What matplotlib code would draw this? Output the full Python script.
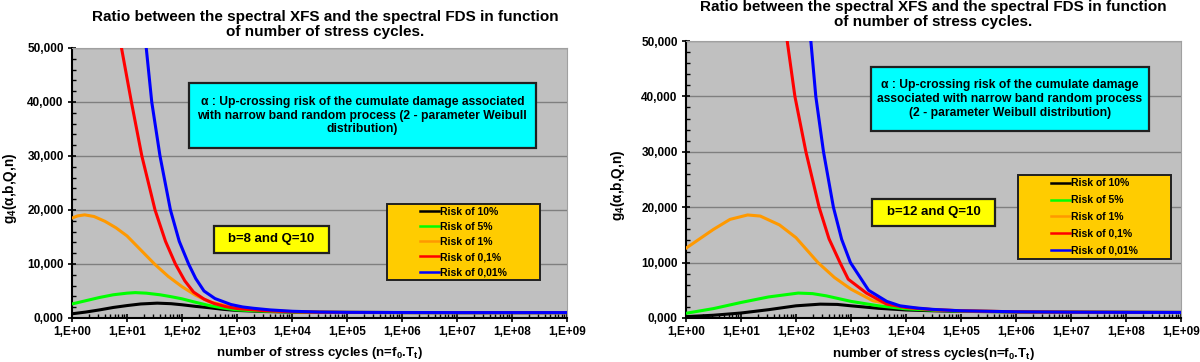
import numpy as np
import matplotlib
matplotlib.use("Agg")
import matplotlib.pyplot as plt
from matplotlib.patches import Rectangle
from matplotlib.ticker import FixedLocator, MultipleLocator, LogLocator, FuncFormatter, NullFormatter

plt.rcParams['font.family'] = ['Liberation Sans', 'DejaVu Sans']
plt.rcParams['font.weight'] = 'bold'
plt.rcParams['mathtext.fontset'] = 'custom'
plt.rcParams['mathtext.rm'] = 'Liberation Sans:bold'
plt.rcParams['mathtext.it'] = 'Liberation Sans:bold'
plt.rcParams['mathtext.bf'] = 'Liberation Sans:bold'

# ---- data : exponents of n (n = 10**e) and g4 values ----
risques = ["Risk of 10%", "Risk of 5%", "Risk of 1%", "Risk of 0,1%", "Risk of 0,01%"]
couleurs = ["#000000", "#00FF00", "#FF9900", "#FF0000", "#0000FF"]

# left panel : b=8 and Q=10
g_noir_e = [0, 0.25, 0.5, 0.75, 1.0, 1.25, 1.55, 1.8, 2.0, 2.25, 2.5, 2.75, 3.0, 3.5, 4.0, 4.5, 5, 6, 7, 8, 9]
g_noir_v = [0.78, 1.1, 1.5, 1.95, 2.3, 2.6, 2.75, 2.65, 2.45, 2.15, 1.9, 1.6, 1.4, 1.2, 1.1, 1.05, 1.03, 1.01, 1.0, 1.0, 1.0]
g_vert_e = [0, 0.25, 0.5, 0.75, 1.0, 1.15, 1.35, 1.6, 1.8, 2.0, 2.25, 2.5, 2.75, 3.0, 3.5, 4.0, 4.5, 5, 6, 7, 8, 9]
g_vert_v = [2.6, 3.2, 3.8, 4.3, 4.6, 4.7, 4.6, 4.3, 3.95, 3.55, 2.9, 2.3, 1.85, 1.5, 1.25, 1.12, 1.06, 1.03, 1.01, 1.0, 1.0, 1.0]
g_orange_e = [0, 0.1, 0.23, 0.4, 0.6, 0.8, 1.0, 1.25, 1.5, 1.75, 2.0, 2.25, 2.5, 2.75, 3.0, 3.5, 4.0, 4.5, 5, 6, 7, 8, 9]
g_orange_v = [18.5, 18.9, 19.1, 18.8, 17.9, 16.7, 15.2, 12.6, 10.0, 7.7, 5.8, 4.2, 3.0, 2.4, 2.0, 1.45, 1.2, 1.08, 1.04, 1.01, 1.0, 1.0, 1.0]
g_rouge_e = [0.6, 0.75, 0.9, 1.08, 1.27, 1.51, 1.7, 1.88, 2.05, 2.21, 2.4, 2.58, 2.8, 3.0, 3.5, 4.0, 4.5, 5, 6, 7, 8, 9]
g_rouge_v = [80, 63, 50, 40, 30, 20, 14.2, 10, 6.9, 4.8, 3.5, 2.7, 2.1, 1.75, 1.35, 1.15, 1.07, 1.03, 1.01, 1.0, 1.0, 1.0]
g_bleu_e = [1.15, 1.25, 1.35, 1.45, 1.6, 1.79, 1.95, 2.12, 2.25, 2.4, 2.6, 2.89, 3.1, 3.3, 3.6, 4.0, 4.5, 5, 6, 7, 8, 9]
g_bleu_v = [70, 59, 50, 40, 30, 20, 14.2, 10, 7.3, 5.0, 3.6, 2.5, 2.05, 1.8, 1.5, 1.25, 1.1, 1.05, 1.02, 1.0, 1.0, 1.0]

# right panel : b=12 and Q=10
d_noir_e = [0, 0.5, 1.0, 1.5, 2.0, 2.44, 2.75, 3.0, 3.5, 4.0, 4.5, 5, 6, 7, 8, 9]
d_noir_v = [0.25, 0.5, 0.9, 1.5, 2.2, 2.5, 2.45, 2.2, 1.75, 1.45, 1.3, 1.2, 1.1, 1.05, 1.02, 1.0]
d_vert_e = [0, 0.5, 1.0, 1.5, 2.04, 2.3, 2.55, 3.0, 3.5, 4.0, 4.5, 5, 6, 7, 8, 9]
d_vert_v = [0.85, 1.7, 2.8, 3.8, 4.5, 4.4, 4.0, 3.0, 2.2, 1.65, 1.4, 1.25, 1.12, 1.05, 1.02, 1.0]
d_orange_e = [0, 0.25, 0.5, 0.8, 1.12, 1.35, 1.7, 2.0, 2.4, 2.7, 3.0, 3.4, 4.0, 4.5, 5, 6, 7, 8, 9]
d_orange_v = [12.6, 14.3, 16.0, 17.8, 18.6, 18.4, 16.8, 14.5, 10.0, 7.3, 5.2, 3.1, 1.9, 1.5, 1.3, 1.12, 1.05, 1.02, 1.0]
d_rouge_e = [1.5, 1.7, 1.84, 1.98, 2.18, 2.42, 2.6, 2.8, 2.95, 3.28, 3.65, 4.0, 4.5, 5, 6, 7, 8, 9]
d_rouge_v = [75, 59, 50, 40, 30, 20, 14.3, 10, 7.0, 4.5, 2.5, 1.9, 1.5, 1.3, 1.12, 1.05, 1.02, 1.0]
d_bleu_e = [2.0, 2.15, 2.27, 2.36, 2.5, 2.68, 2.83, 2.99, 3.32, 3.65, 3.89, 4.2, 4.5, 5, 6, 7, 8, 9]
d_bleu_v = [75, 60, 50, 40, 30, 20, 14.2, 10, 5.0, 3.0, 2.2, 1.8, 1.55, 1.3, 1.12, 1.05, 1.02, 1.0]

gauche = [(g_noir_e, g_noir_v), (g_vert_e, g_vert_v), (g_orange_e, g_orange_v),
          (g_rouge_e, g_rouge_v), (g_bleu_e, g_bleu_v)]
droite = [(d_noir_e, d_noir_v), (d_vert_e, d_vert_v), (d_orange_e, d_orange_v),
          (d_rouge_e, d_rouge_v), (d_bleu_e, d_bleu_v)]

titre = "Ratio between the spectral XFS and the spectral FDS in function\nof number of stress cycles."
texte_alpha_g = ("α : Up-crossing risk of the cumulate damage associated\n"
                 "with narrow band random process (2 - parameter Weibull\ndistribution)")
texte_alpha_d = ("α : Up-crossing risk of the cumulate damage\n"
                 "associated with narrow band random process\n(2 - parameter Weibull distribution)")


def rysujPanel(ax, series, xlabel, cyan, jaune, legende, tytul_pos, pas_legende, ylab_x):
    for (e, v), kolor, etykieta in zip(series, couleurs, risques):
        ax.plot(10.0 ** np.array(e), v, color=kolor, lw=2.2, label=etykieta,
                solid_joinstyle="round", zorder=3)

    ax.set_xscale("log")
    ax.set_xlim(1, 1e9)
    ax.set_ylim(0, 50)
    ax.set_facecolor("#C0C0C0")
    ax.grid(axis="y", color="#7F7F7F", lw=1.0, zorder=1)
    ax.set_axisbelow(True)

    ax.xaxis.set_major_locator(FixedLocator([10.0 ** k for k in range(10)]))
    ax.xaxis.set_minor_locator(LogLocator(base=10, subs=np.arange(2, 10), numticks=20))
    ax.xaxis.set_minor_formatter(NullFormatter())
    ax.xaxis.set_major_formatter(FuncFormatter(lambda x, p: "1,E+%02d" % round(np.log10(x))))
    ax.yaxis.set_major_locator(MultipleLocator(10))
    ax.yaxis.set_minor_locator(MultipleLocator(2))
    ax.yaxis.set_major_formatter(FuncFormatter(lambda y, p: ("%.3f" % y).replace(".", ",")))

    ax.tick_params(which="major", direction="inout", length=6, width=1.2, labelsize=8.5, pad=3)
    ax.tick_params(which="minor", direction="in", length=3, width=1.0)
    for lab in ax.get_xticklabels() + ax.get_yticklabels():
        lab.set_fontweight("bold")

    for s in ("left", "bottom"):
        ax.spines[s].set_color("black")
        ax.spines[s].set_linewidth(1.5)
    for s in ("top", "right"):
        ax.spines[s].set_color("#A0A0A0")
        ax.spines[s].set_linewidth(0.8)

    ax.set_xlabel(xlabel, fontsize=9.5, fontweight="bold")
    ax.set_ylabel("g$_4$(α,b,Q,n)", fontsize=9.8, fontweight="bold")
    ax.xaxis.set_label_coords(0.5, -0.1)
    ax.yaxis.set_label_coords(ylab_x, 0.48)

    ax.text(tytul_pos[0], tytul_pos[1], titre, transform=ax.transAxes, ha="center", va="center",
            fontsize=11, fontweight="bold", linespacing=1.1)

    # cyan box
    x0, y0, x1, y1, tekst = cyan
    ax.add_patch(Rectangle((x0, y0), x1 - x0, y1 - y0, transform=ax.transAxes, facecolor="#00FFFF",
                           edgecolor="#202020", lw=1.6, zorder=4))
    ax.text((x0 + x1) / 2, (y0 + y1) / 2, tekst, transform=ax.transAxes, ha="center", va="center",
            fontsize=8.7, fontweight="bold", linespacing=1.2, zorder=5)

    # yellow box
    x0, y0, x1, y1, tekst = jaune
    ax.add_patch(Rectangle((x0, y0), x1 - x0, y1 - y0, transform=ax.transAxes, facecolor="#FFFF00",
                           edgecolor="#202020", lw=1.6, zorder=4))
    ax.text((x0 + x1) / 2, (y0 + y1) / 2, tekst, transform=ax.transAxes, ha="center", va="center",
            fontsize=9.5, fontweight="bold", zorder=5)

    # legend
    x0, y0, x1, y1 = legende
    ax.add_patch(Rectangle((x0, y0), x1 - x0, y1 - y0, transform=ax.transAxes, facecolor="#FFCC00",
                           edgecolor="#202020", lw=1.4, zorder=4))
    leg = ax.legend(loc="center", bbox_to_anchor=((x0 + x1) / 2, (y0 + y1) / 2), frameon=False,
                    handlelength=1.8, handletextpad=0.1, labelspacing=pas_legende,
                    borderpad=0.0, prop={"weight": "bold", "size": 7.5})
    leg.set_zorder(6)
    for linia in leg.get_lines():
        linia.set_linewidth(1.8)


fig = plt.figure(figsize=(12, 3.62), dpi=100)
ax1 = fig.add_axes([72 / 1200, 44 / 362, 495 / 1200, 270 / 362])
ax2 = fig.add_axes([686 / 1200, 44 / 362, 495 / 1200, 277 / 362])

rysujPanel(ax1, gauche, "number of stress cycles (n=f$_0$.T$_t$)",
           (0.236, 0.630, 0.937, 0.870, texte_alpha_g),
           (0.287, 0.241, 0.519, 0.341, "b=8 and Q=10"),
           (0.636, 0.141, 0.945, 0.422), (0.511, 1.087), 0.49, -0.108)
rysujPanel(ax2, droite, "number of stress cycles(n=f$_0$.T$_t$)",
           (0.374, 0.675, 0.935, 0.906, texte_alpha_d),
           (0.376, 0.332, 0.624, 0.430, "b=12 and Q=10"),
           (0.671, 0.213, 0.980, 0.516), (0.499, 1.097), 0.65, -0.119)

fig.savefig("out.png", dpi=100)
